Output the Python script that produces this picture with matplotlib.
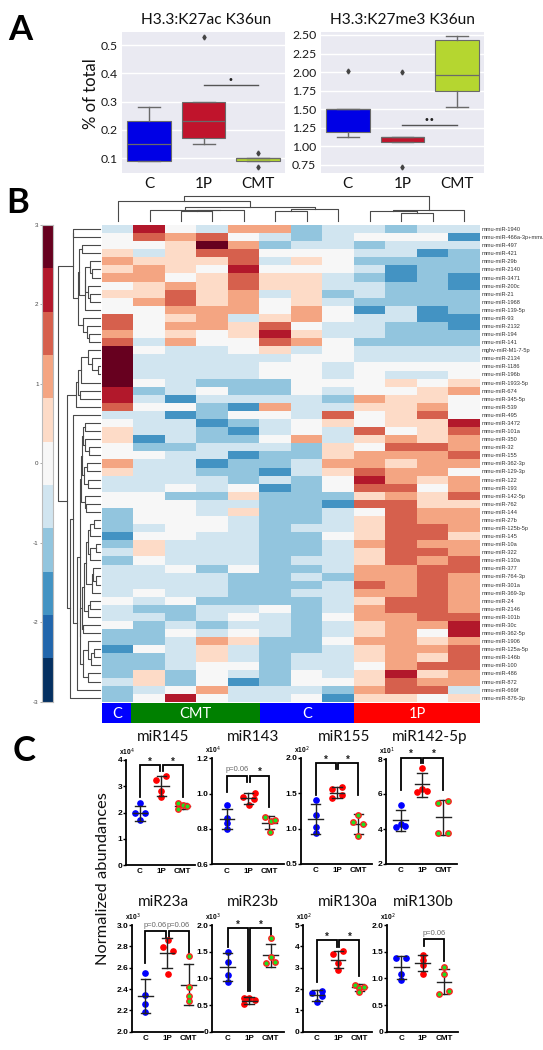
import numpy as np
import matplotlib
matplotlib.use('Agg')
import matplotlib.pyplot as plt
from matplotlib.colors import ListedColormap, BoundaryNorm

W, H = 543, 1050

# panel A
groups = ['C', '1P', 'CMT']
box_colors = ['#0000e6', '#c0142c', '#b5d630']
k27ac_q1 = [0.09, 0.17, 0.09]
k27ac_med = [0.15, 0.23, 0.10]
k27ac_q3 = [0.23, 0.30, 0.10]
k27ac_lo = [0.09, 0.15, 0.09]
k27ac_hi = [0.28, 0.30, 0.10]
k27ac_out = [[], [0.53], [0.12, 0.07]]
k27me3_q1 = [1.20, 1.06, 1.74]
k27me3_med = [1.50, 1.12, 1.96]
k27me3_q3 = [1.50, 1.13, 2.43]
k27me3_lo = [1.13, 1.06, 1.53]
k27me3_hi = [1.50, 1.13, 2.48]
k27me3_out = [[2.01], [2.00, 0.72], []]

# panel B
row_names = ['1940', '466a-3p+mmu', '497', '421', '29b', '2140', '3471', '200c', '21', '1968',
             '139-5p', '93', '2132', '194', '141', 'M1-7-5p', '2134', '1186', '196b', '1933-5p',
             '674', '345-5p', '539', '495', '3472', '101a', '350', '32', '155', '362-3p',
             '129-3p', '122', '193', '142-5p', '762', '144', '27b', '125b-5p', '145', '10a',
             '322', '130a', '377', '764-3p', '301a', '369-3p', '24', '2146', '101b', '30c',
             '362-5p', '1906', '125a-5p', '146b', '100', '486', '872', '669f', '876-3p']
heat = [
    [-1, 4, 0, -1, 2, 2, -2, -1, -1, -2, -1, -1],
    [0, 3, 2, 3, 0, -1, -2, -1, 0, 0, 0, -3],
    [0, 0, 1, 5, 2, -2, -1, -1, -2, -1, -1, -1],
    [1, -1, 1, 3, 3, 0, 0, 0, -1, -1, -3, -2],
    [2, 1, 1, 1, 3, -1, 1, 0, -2, -2, -2, -2],
    [1, 2, 1, 0, 4, 0, 0, 0, -1, -3, -2, -2],
    [2, 2, 0, 1, 3, 1, 1, -1, -2, -3, -2, -3],
    [0, 1, 2, 1, 3, 1, 1, -1, -1, -2, -2, -3],
    [1, 1, 3, 1, 2, -1, 1, -2, -1, -2, -2, -2],
    [0, 2, 3, 1, 2, 0, 1, -1, -2, -2, -2, -2],
    [0, 0, 2, 2, 2, 0, 2, 0, -3, -1, -3, -2],
    [3, 0, 1, 2, -1, 1, 2, 0, -1, -1, -3, -3],
    [3, 0, 2, 2, 1, 3, 0, -1, -1, -2, -2, -3],
    [2, 0, 1, 0, 1, 4, 1, -1, -1, -2, -2, -2],
    [3, -1, 2, 0, 0, 3, 2, 0, -2, -2, -2, -2],
    [5, 0, -1, -1, 0, 1, -1, 0, -1, -1, -1, -1],
    [5, -1, -1, -1, -1, -1, 0, 0, -1, -1, -1, -1],
    [5, -1, -1, -1, -1, 0, 0, -1, 0, 0, 0, 0],
    [5, -1, -1, -1, -1, 0, 0, -1, 0, -1, -1, 0],
    [5, 0, -1, -2, -2, -2, 0, 0, 0, 1, 0, 1],
    [4, -2, -1, 0, -2, -2, 0, -1, 0, 0, 1, 2],
    [4, -1, -3, -1, -1, -1, -1, -2, 2, 1, 1, 0],
    [3, 0, 0, -2, -3, 2, -1, -1, 1, 1, 2, 0],
    [-1, -1, -3, -2, 0, 0, -1, 3, 0, 1, 3, 0],
    [0, -1, -1, -3, -2, -1, 0, 1, 0, 1, 1, 4],
    [1, -1, -1, -2, -3, -1, 0, -1, 3, 0, 1, 3],
    [1, -3, -1, -2, -2, 0, 2, -1, 1, 2, 1, 2],
    [0, -2, -2, -1, -1, -1, -2, 1, 0, 3, 3, 2],
    [0, 0, -1, -1, -3, -2, -2, 1, 2, 2, 2, 3],
    [2, -1, -1, -3, -2, -2, -1, 2, 2, 1, 2, 2],
    [1, -1, -1, -2, -2, -3, -1, 1, 3, 2, 2, 0],
    [-1, -1, -1, -1, -2, -1, -2, 0, 4, 2, 1, 2],
    [-1, -1, 0, -1, 0, -3, -2, 0, 3, 3, 0, 2],
    [0, 0, -2, -2, 1, -2, -2, -2, 1, 2, 1, 3],
    [0, 0, 0, -1, -1, -2, -2, -3, 3, 3, 1, 1],
    [-2, 0, 0, -1, 1, -2, -2, -1, 0, 3, 2, 2],
    [-2, 0, 0, 0, -1, -2, -2, -1, 1, 3, 2, 2],
    [-2, -1, 0, 0, -1, -2, -1, -1, 1, 3, 3, 2],
    [-3, 0, 0, -1, -1, -2, -2, 0, 1, 3, 3, 1],
    [-2, 1, -1, -1, -1, -2, -2, -1, 2, 3, 2, 2],
    [-1, 1, -1, -1, -1, -2, -2, -1, 1, 3, 3, 2],
    [-2, 0, -1, -1, -1, -2, -1, -1, 1, 3, 2, 3],
    [-1, -1, 0, -2, 0, -2, -2, -1, 2, 2, 3, 3],
    [-1, -1, -1, -1, -2, -2, -1, -2, 2, 2, 3, 2],
    [-1, -1, -1, -1, -2, -2, -2, -1, 3, 2, 3, 2],
    [-1, 0, -1, -1, -2, -2, -1, -1, 2, 2, 3, 2],
    [0, -1, 0, -2, -2, -2, -2, -1, 1, 3, 3, 2],
    [-1, -2, -2, -1, -1, 0, -2, -1, 2, 3, 3, 2],
    [-1, -1, -2, -1, 0, -1, -2, 0, 2, 2, 3, 3],
    [0, -2, -1, -2, -1, -1, -2, -1, 1, 2, 2, 4],
    [-2, -2, 0, -1, 0, -1, -2, -1, 1, 2, 0, 4],
    [-2, -2, -1, 2, 1, -2, -2, 0, 2, 2, 1, 2],
    [-3, 0, -1, 1, -1, -2, -2, -1, 1, 2, 2, 3],
    [-2, -2, -1, 1, -1, -2, -1, -1, 1, 2, 1, 3],
    [-2, -2, -1, 0, 0, -2, -1, -1, 0, 2, 3, 3],
    [-2, 1, -2, 0, -1, -2, 0, -1, 1, 4, 1, 2],
    [-1, 1, -2, 0, -3, -2, 0, 0, 1, 3, 2, 2],
    [-2, -1, 0, 2, -1, -1, -1, -2, 2, 3, 3, -1],
    [-2, 0, 4, 0, -1, -1, 0, -3, 1, 1, 0, 1],
]
level_colors = ['#053061', '#2166ac', '#4393c3', '#92c5de', '#d1e5f0', '#f7f7f7',
                '#fddbc7', '#f4a582', '#d6604d', '#b2182b', '#67001f']
strip_names = ['C', 'CMT', 'C', '1P']
strip_cols = [0.92, 4.08, 3, 4]
strip_colors = ['#0000ff', '#008000', '#0000ff', '#ff0000']

# dendrograms: (height, child, child), a leaf is a column or row number
top_tree = (195.7,
            (200.7, 0, (207, (209.7, 1, (210.3, (210.5, 2, 3), 4)),
                        (209.3, (211, 5, 6), 7))),
            (210, (210.5, 8, (213.3, 9, 10)), 11))
left_a = (72.5, (73, 0, 1),
          (78, (78.5, (82, 2, 3),
                (84.5, (85, (90, 4, (92, 5, 6)), (88, 7, (90, 8, 9))), 10)),
           (83, 11, (87, 12, (89, 13, 14)))))
left_b = (76, (78, (81, (87.5, 15, (92, 16, (98, 17, 18))), 19), (80, 20, 21)), 22)
left_c1 = (82, (82.5, (85, 24, 25), (85, 26, (89, 27, 28))), (84, (87, 29, 30), (87.5, 31, 32)))
left_c2 = (84.5, 33, (85.5, 34, 35))
left_d1 = (88, (90, (94, 36, 37), 38), (90, (96, 39, 40), 41))
left_d2 = (92, (93, 42, (96, 43, 44)), 45)
left_d = (84, (86, left_d1, left_d2), (88, (90, 46, 47), 48))
left_e = (83, (88, 51, (91, (94, 52, 53), 54)), (88, 55, 56))
left_low = (80, (82, left_d, (83, 49, 50)), left_e)
left_tree = (58.3, left_a,
             (66.6, left_b,
              (70, (73.3, 23, (77.3, (80, (80.5, left_c1, left_c2), left_low), 57)), 58)))

# panel C
mir145_pts = [[2.35, 2.0, 2.0, 1.71], [3.24, 3.39, 2.83, 2.6], [2.35, 2.29, 2.25, 2.13]]
mir145_dx = [[0, -0.23, 0.23, 0], [-0.25, 0.22, 0, 0], [-0.23, 0, 0.23, -0.23]]
mir145_mean = [2.0, 3.02, 2.25]
mir145_lo = [1.69, 2.64, 2.13]
mir145_hi = [2.25, 3.39, 2.37]
mir143_pts = [[0.934, 0.86, 0.832, 0.80], [0.983, 1.006, 0.934, 0.968], [0.866, 0.847, 0.851, 0.785]]
mir143_dx = [[0, 0, 0, 0], [-0.24, 0.3, 0.05, 0.28], [-0.2, 0.06, 0.28, 0.03]]
mir143_mean = [0.857, 0.974, 0.836]
mir143_lo = [0.80, 0.94, 0.80]
mir143_hi = [0.913, 1.006, 0.874]
mir155_pts = [[1.40, 1.20, 1.02, 0.94], [1.56, 1.59, 1.44, 1.47], [1.10, 1.20, 1.06, 0.90]]
mir155_dx = [[0, 0, 0, 0], [-0.22, 0.23, -0.22, 0.23], [-0.23, 0, 0.23, 0]]
mir155_mean = [1.14, 1.51, 1.06]
mir155_lo = [0.93, 1.44, 0.93]
mir155_hi = [1.35, 1.59, 1.21]
mir142_pts = [[5.40, 4.09, 4.28, 4.18], [7.5, 6.1, 6.31, 6.2], [5.49, 5.6, 3.77, 3.78]]
mir142_dx = [[0, -0.23, 0, 0.22], [0, -0.25, 0, 0.22], [-0.23, 0.22, -0.23, 0.22]]
mir142_mean = [4.49, 6.56, 4.68]
mir142_lo = [3.88, 5.85, 3.63]
mir142_hi = [5.09, 7.2, 5.68]
mir23a_pts = [[2.55, 2.34, 2.26, 2.18], [2.79, 2.76, 2.86, 2.54], [2.71, 2.42, 2.33, 2.29]]
mir23a_dx = [[0, 0, 0, 0], [-0.2, 0.26, 0.03, 0.03], [0, 0, 0, 0]]
mir23a_mean = [2.33, 2.74, 2.44]
mir23a_lo = [2.175, 2.60, 2.25]
mir23a_hi = [2.49, 2.875, 2.63]
mir23b_pts = [[1.49, 1.31, 1.07, 0.925], [0.52, 0.625, 0.625, 0.59], [1.76, 1.29, 1.40, 1.30]]
mir23b_dx = [[0, 0, 0, 0], [-0.22, -0.22, 0, 0.25], [0, -0.23, 0, 0.22]]
mir23b_mean = [1.21, 0.58, 1.44]
mir23b_lo = [0.95, 0.52, 1.22]
mir23b_hi = [1.47, 0.65, 1.65]
mir130a_pts = [[1.83, 1.92, 1.67, 1.375], [3.66, 3.77, 3.22, 2.91], [2.2, 2.03, 2.08, 1.84]]
mir130a_dx = [[-0.22, 0.23, 0.23, 0], [-0.23, 0.22, 0, 0], [-0.22, 0, 0.23, 0]]
mir130a_mean = [1.70, 3.375, 2.08]
mir130a_lo = [1.45, 2.97, 1.9]
mir130a_hi = [1.95, 3.78, 2.23]
mir130b_pts = [[1.38, 1.39, 1.09, 0.975], [1.44, 1.34, 1.25, 1.09], [1.21, 1.075, 0.70, 0.77]]
mir130b_dx = [[-0.23, 0.22, 0, 0], [0, 0, 0, 0], [0, 0, -0.22, 0.25]]
mir130b_mean = [1.21, 1.28, 0.94]
mir130b_lo = [0.99, 1.14, 0.70]
mir130b_hi = [1.42, 1.44, 1.18]

# brackets: from group, to group, top, left leg end, right leg end, label
mir145_brk = [(0, 0.94, 3.81, 2.6, 3.59, '*'), (1.06, 2, 3.81, 3.59, 2.6, '*')]
mir143_brk = [(0, 0.93, 1.102, 1.011, 1.068, 'p=0.06'), (1.07, 2, 1.102, 1.068, 0.926, '*')]
mir155_brk = [(0, 0.94, 1.93, 1.48, 1.84, '*'), (1.06, 2, 1.93, 1.84, 1.47, '*')]
mir142_brk = [(0, 0.93, 8.08, 6.23, 7.75, '*'), (1.07, 2, 8.08, 7.75, 6.23, '*')]
mir23a_brk = [(0, 0.95, 2.94, 2.64, 2.88, 'p=0.06'), (1.07, 2, 2.94, 2.88, 2.73, 'p=0.06')]
mir23b_brk = [(0, 0.94, 1.94, 1.59, 0.76, '*'), (1.06, 2, 1.94, 0.76, 1.72, '*')]
mir130a_brk = [(0, 0.94, 4.28, 2.34, 3.98, '*'), (1.06, 2, 4.28, 3.98, 2.62, '*')]
mir130b_brk = [(1.05, 2, 1.73, 1.61, 1.325, 'p=0.06')]

title_names = ['miR145', 'miR143', 'miR155', 'miR142-5p', 'miR23a', 'miR23b', 'miR130a', 'miR130b']
title_x = [163, 253, 344, 430, 163, 253, 348, 423]
scale_labels = ['4', '4', '2', '1', '3', '3', '2', '2']
tick_vals = [[0, 1, 2, 3, 4], [0.6, 0.8, 1.0, 1.2], [0.5, 1.0, 1.5, 2.0], [2, 4, 6, 8],
             [2.0, 2.2, 2.4, 2.6, 2.8, 3.0], [0, 0.5, 1.0, 1.5, 2.0], [0, 1, 2, 3, 4, 5],
             [0, 0.5, 1.0, 1.5, 2.0]]
tick_text = [['0', '1', '2', '3', '4'], ['0.6', '0.8', '1.0', '1.2'], ['0.5', '1.0', '1.5', '2.0'],
             ['2', '4', '6', '8'], ['2.0', '2.2', '2.4', '2.6', '2.8', '3.0'],
             ['0', '0.5', '1.0', '1.5', '2.0'], ['0', '1', '2', '3', '4', '5'],
             ['0', '0.5', '1.0', '1.5', '2.0']]

fig = plt.figure(figsize=(W / 100, H / 100), dpi=100)


def px_axes(x0, y0, x1, y1, **kw):
    return fig.add_axes([x0 / W, 1 - y1 / H, (x1 - x0) / W, (y1 - y0) / H], **kw)


def fig_text(x, y, s, **kw):
    kw.setdefault('ha', 'center')
    kw.setdefault('va', 'center')
    fig.text(x / W, 1 - y / H, s, **kw)


def box_panel(box, q1, med, q3, lo, hi, out, ylim, ticks, labels):
    ax = px_axes(*box, facecolor='#eaeaf2')
    stats = []
    for i in range(3):
        stats.append({'q1': q1[i], 'med': med[i], 'q3': q3[i], 'whislo': lo[i], 'whishi': hi[i], 'fliers': out[i]})
    parts = ax.bxp(stats, positions=[0, 1, 2], widths=0.8, patch_artist=True, zorder=3,
                   boxprops={'edgecolor': '#6a6a6a', 'linewidth': 0.8},
                   medianprops={'color': '#6a6a6a', 'linewidth': 0.9},
                   whiskerprops={'color': '#6a6a6a', 'linewidth': 1.0},
                   capprops={'color': '#6a6a6a', 'linewidth': 1.0},
                   flierprops={'marker': 'd', 'markersize': 2.5, 'markerfacecolor': '#444444',
                               'markeredgecolor': '#444444'})
    for patch, c in zip(parts['boxes'], box_colors):
        patch.set_facecolor(c)
    ax.set_xlim(-0.5, 2.5)
    ax.set_ylim(*ylim)
    ax.set_yticks(ticks)
    ax.set_yticklabels(labels, family='Lato', fontsize=8.8, color='#1a1a1a')
    ax.set_xticks([0, 1, 2])
    ax.set_xticklabels(groups, family='Lato', fontsize=11, color='#111111')
    ax.tick_params(length=0, pad=3)
    ax.grid(axis='y', color='white', linewidth=1)
    ax.set_axisbelow(True)
    for s in ax.spines.values():
        s.set_visible(False)
    return ax


ax = box_panel((121.8, 31.7, 285.5, 172.7), k27ac_q1, k27ac_med, k27ac_q3, k27ac_lo, k27ac_hi, k27ac_out,
               (0.049, 0.547), [0.1, 0.2, 0.3, 0.4, 0.5], ['0.1', '0.2', '0.3', '0.4', '0.5'])
ax.plot([1, 2], [0.357, 0.357], color='#555555', lw=1)
ax.text(1.5, 0.377, '•', ha='center', va='center', fontsize=7, color='#222222')
ax = box_panel((320.5, 31.7, 484.4, 172.7), k27me3_q1, k27me3_med, k27me3_q3, k27me3_lo, k27me3_hi, k27me3_out,
               (0.646, 2.544), [0.75, 1.0, 1.25, 1.5, 1.75, 2.0, 2.25, 2.5],
               ['0.75', '1.00', '1.25', '1.50', '1.75', '2.00', '2.25', '2.50'])
ax.plot([1, 2], [1.285, 1.285], color='#555555', lw=1)
ax.text(1.5, 1.36, '••', ha='center', va='center', fontsize=7, color='#222222')

fig_text(206, 20, 'H3.3:K27ac K36un', family='Lato', fontsize=11.2, color='#111111')
fig_text(402, 20, 'H3.3:K27me3 K36un', family='Lato', fontsize=11.2, color='#111111')
fig_text(91, 94, '% of total', family='Lato', fontsize=12, rotation=90, color='#111111')
fig_text(20, 30, 'A', family='Lato', fontsize=25, fontweight='bold', color='black')
fig_text(18, 203, 'B', family='Lato', fontsize=25, fontweight='bold', color='black')
fig_text(24, 751, 'C', family='Lato', fontsize=25, fontweight='bold', color='black')

# heatmap
levels = np.arange(-5.5, 6.5)
cmap = ListedColormap(level_colors)
norm = BoundaryNorm(levels, cmap.N)
ax = px_axes(102.3, 225, 480, 701.7)
ax.imshow(np.array(heat), cmap=cmap, norm=norm, aspect='auto', interpolation='nearest')
ax.set_xticks([])
ax.yaxis.tick_right()
ax.set_yticks(range(len(row_names)))
full_names = ['mghv-miR-' + n if n.startswith('M1') else 'mmu-miR-' + n for n in row_names]
ax.set_yticklabels(full_names, family='Liberation Sans', fontsize=4.1, color='#333333')
ax.tick_params(length=0, pad=1)
for s in ax.spines.values():
    s.set_visible(False)

# group strip
ax = px_axes(102.3, 703.3, 480, 723.3)
left = 0
for name, n, c in zip(strip_names, strip_cols, strip_colors):
    ax.barh(0, n, left=left, height=1, color=c)
    ax.text(left + n / 2, -0.03, name, color='white', ha='center', va='center', family='Lato', fontsize=10.5)
    left += n
ax.set_xlim(0, 12)
ax.set_ylim(-0.5, 0.5)
ax.axis('off')

# colour key
ax = px_axes(42, 225, 53.3, 701.7)
edges = np.linspace(-3, 3, 12)
ax.pcolormesh([0, 1], edges, np.arange(-5, 6).reshape(-1, 1), cmap=cmap, norm=norm)
ax.set_xticks([])
ax.set_yticks([-3, -2, -1, 0, 1, 2, 3])
ax.set_yticklabels(['-3', '-2', '-1', '0', '1', '2', '3'], family='Liberation Sans', fontsize=4.5, color='#444444')
ax.tick_params(length=1.5, width=0.5, color='#888888', pad=1)
for s in ax.spines.values():
    s.set_color('#bbbbbb')
    s.set_linewidth(0.8)

# dendrograms on a page sized overlay
over = px_axes(0, 0, W, H)
over.set_xlim(0, W)
over.set_ylim(H, 0)
over.axis('off')
over.patch.set_alpha(0)


def draw_tree(node, leaf_pos, leaf_h, horiz):
    if isinstance(node, int):
        return leaf_pos(node), leaf_h
    h = node[0]
    p0, h0 = draw_tree(node[1], leaf_pos, leaf_h, horiz)
    p1, h1 = draw_tree(node[2], leaf_pos, leaf_h, horiz)
    a = [h0, h, h, h1]
    b = [p0, p0, p1, p1]
    if horiz:
        over.plot(a, b, color='#4a4a4a', lw=0.8)
    else:
        over.plot(b, a, color='#4a4a4a', lw=0.8)
    return (p0 + p1) / 2, h


draw_tree(top_tree, lambda i: 102.3 + 31.47 * (i + 0.5), 221, False)
draw_tree(left_tree, lambda r: 225 + 8.08 * (r + 0.5), 100, True)

# panel C scatter panels
panel_pts = [mir145_pts, mir143_pts, mir155_pts, mir142_pts, mir23a_pts, mir23b_pts, mir130a_pts, mir130b_pts]
panel_dx = [mir145_dx, mir143_dx, mir155_dx, mir142_dx, mir23a_dx, mir23b_dx, mir130a_dx, mir130b_dx]
panel_mean = [mir145_mean, mir143_mean, mir155_mean, mir142_mean, mir23a_mean, mir23b_mean, mir130a_mean, mir130b_mean]
panel_lo = [mir145_lo, mir143_lo, mir155_lo, mir142_lo, mir23a_lo, mir23b_lo, mir130a_lo, mir130b_lo]
panel_hi = [mir145_hi, mir143_hi, mir155_hi, mir142_hi, mir23a_hi, mir23b_hi, mir130a_hi, mir130b_hi]
panel_brk = [mir145_brk, mir143_brk, mir155_brk, mir142_brk, mir23a_brk, mir23b_brk, mir130a_brk, mir130b_brk]
axis_left = [126, 212, 301, 386, 132, 212, 303, 387]
axis_right = [195, 284, 372, 457, 203, 284, 372, 458]
axis_top = [760, 758.3, 758, 759, 925, 925, 925, 925]
axis_bottom = [865, 864.3, 864, 864, 1031.7, 1031.7, 1031.7, 1031.7]
first_x = [140, 227, 315.7, 400.7, 145.3, 227.7, 317, 401.3]
step_x = [21.3, 21.2, 21.3, 21.3, 21.7, 21.5, 21.2, 21.3]
bold = {'family': 'Liberation Sans', 'fontweight': 'bold'}

for i in range(8):
    ax = px_axes(axis_left[i], axis_top[i], axis_right[i], axis_bottom[i])
    ax.patch.set_alpha(0)
    ax.set_xlim((axis_left[i] - first_x[i]) / step_x[i], (axis_right[i] - first_x[i]) / step_x[i])
    ax.set_ylim(tick_vals[i][0], tick_vals[i][-1])
    for g in range(3):
        xs = [g + d for d in panel_dx[i][g]]
        if g == 0:
            ax.plot(xs, panel_pts[i][g], 'o', ms=3.8, mfc='#0000ff', mec='#0000ff', clip_on=False, zorder=3)
        elif g == 1:
            ax.plot(xs, panel_pts[i][g], 'o', ms=3.8, mfc='#ff0000', mec='#ff0000', clip_on=False, zorder=3)
        else:
            ax.plot(xs, panel_pts[i][g], 'o', ms=3.9, mfc='#1fe01f', mec='#ff2020', mew=1.0, clip_on=False, zorder=5)
        m, lo, hi = panel_mean[i][g], panel_lo[i][g], panel_hi[i][g]
        ax.plot([g, g], [lo, hi], color='#222222', lw=1, zorder=4)
        ax.plot([g - 0.34, g + 0.34], [m, m], color='#222222', lw=1, zorder=4)
        ax.plot([g - 0.22, g + 0.22], [lo, lo], color='#222222', lw=1, zorder=4)
        ax.plot([g - 0.22, g + 0.22], [hi, hi], color='#222222', lw=1, zorder=4)
    for x0, x1, top, leg0, leg1, label in panel_brk[i]:
        ax.plot([x0, x0, x1, x1], [leg0, top, top, leg1], color='black', lw=1.3, clip_on=False, solid_joinstyle='miter')
        if label == '*':
            ax.annotate('*', ((x0 + x1) / 2, top), xytext=(0, 2.5), textcoords='offset points', ha='center', va='center',
                        fontsize=7, color='#222222', annotation_clip=False, **bold)
        else:
            ax.annotate(label, ((x0 + x1) / 2, top), xytext=(0, 4.5), textcoords='offset points', ha='center', va='center',
                        fontsize=5.4, color='#666666', family='Liberation Sans', annotation_clip=False)
    ax.set_xticks([0, 1, 2])
    ax.set_xticklabels(groups, fontsize=5.8, **bold)
    ax.set_yticks(tick_vals[i])
    ax.set_yticklabels(tick_text[i], fontsize=6, **bold)
    ax.tick_params(axis='x', length=0, pad=2.5)
    ax.tick_params(axis='y', length=2, width=1, pad=0.5)
    for s in ['top', 'right']:
        ax.spines[s].set_visible(False)
    for s in ['left', 'bottom']:
        ax.spines[s].set_linewidth(1.3)
    title_y = 737 if i < 4 else 902
    fig_text(title_x[i], title_y, title_names[i], family='Lato', fontsize=11, color='#111111')
    fig_text(axis_left[i] + 0.5, axis_top[i] - 8, 'x10$^{' + scale_labels[i] + '}$', fontsize=4.8, **bold)

fig_text(103, 879, 'Normalized abundances', family='Lato', fontsize=11.8, rotation=90, color='#111111')

plt.savefig('out.png', dpi=100)
